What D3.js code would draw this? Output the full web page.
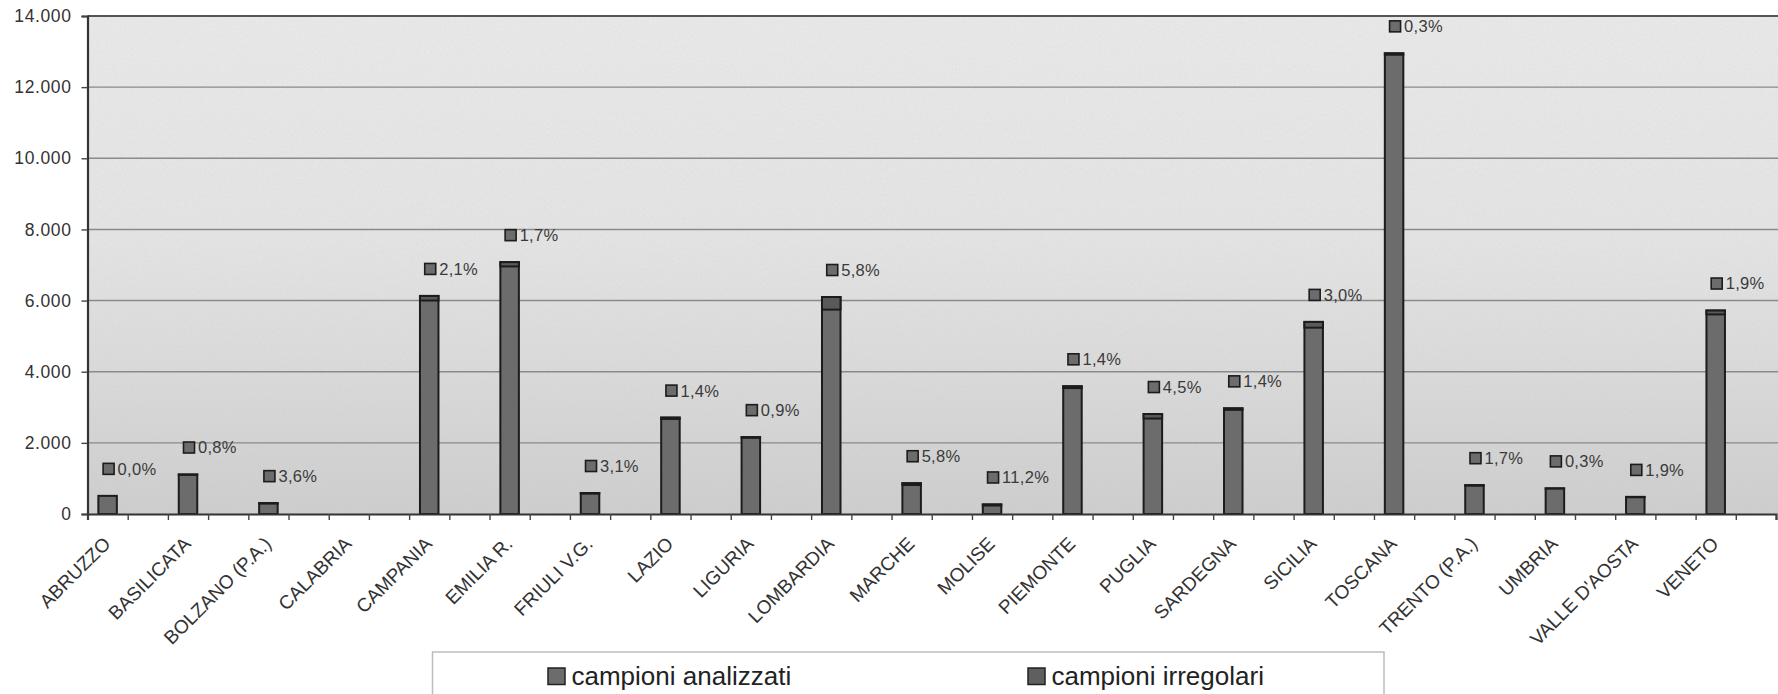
<!DOCTYPE html>
<html lang="it">
<head>
<meta charset="utf-8">
<title>Campioni analizzati e irregolari per regione</title>
<script src="https://cdn.jsdelivr.net/npm/d3@7/dist/d3.min.js"></script>
<style>
  html, body { margin: 0; padding: 0; background: #ffffff; }
  svg { display: block; font-family: "Liberation Sans", Arial, sans-serif; }
</style>
</head>
<body>
<svg id="chart" width="1778" height="694"></svg>
<script>
// Regioni e province autonome
const regions = [
  "ABRUZZO", "BASILICATA", "BOLZANO (P.A.)", "CALABRIA", "CAMPANIA",
  "EMILIA R.", "FRIULI V.G.", "LAZIO", "LIGURIA", "LOMBARDIA",
  "MARCHE", "MOLISE", "PIEMONTE", "PUGLIA", "SARDEGNA",
  "SICILIA", "TOSCANA", "TRENTO (P.A.)", "UMBRIA", "VALLE D'AOSTA", "VENETO"
];

// Numero di campioni analizzati
const analizzati = [
  510, 1110, 305, 0, 6130,
  7080, 590, 2710, 2160, 6100,
  865, 268, 3590, 2810, 2970,
  5400, 12950, 810, 720, 480, 5720
];

// Numero di campioni irregolari
const irregolari = [
  0, 9, 11, 0, 129,
  120, 18, 38, 19, 354,
  50, 30, 50, 126, 42,
  162, 39, 14, 2, 9, 109
];

const yTicks = [0, 2000, 4000, 6000, 8000, 10000, 12000, 14000];
const seriesNames = ["campioni analizzati", "campioni irregolari"];

const it = d3.formatLocale({ decimal: ",", thousands: ".", grouping: [3], currency: ["€", ""] });
const fmtNum = it.format(",");
const fmtPct = it.format(".1f");

const svg = d3.select("#chart");
const plot = { left: 87.5, right: 1776, top: 16, bottom: 514 };

const x = d3.scaleLinear().domain([0, regions.length]).range([plot.left, plot.right]);
const y = d3.scaleLinear().domain([0, 14000]).range([plot.bottom, plot.top]);

const defs = svg.append("defs");
const grad = defs.append("linearGradient")
  .attr("id", "plotBg").attr("x1", 0).attr("y1", 0).attr("x2", 0).attr("y2", 1);
[[0, "#e9e9e9"], [0.45, "#e4e4e4"], [0.72, "#dadada"], [1, "#cecece"]].forEach(([o, c]) =>
  grad.append("stop").attr("offset", o).attr("stop-color", c));

// grana leggera della superficie di stampa
const grain = defs.append("filter").attr("id", "grain")
  .attr("x", 0).attr("y", 0).attr("width", "100%").attr("height", "100%");
grain.append("feTurbulence").attr("type", "fractalNoise")
  .attr("baseFrequency", "0.9 0.35").attr("numOctaves", 2).attr("seed", 7);
grain.append("feColorMatrix").attr("type", "matrix")
  .attr("values", "0 0 0 0 0.5  0 0 0 0 0.5  0 0 0 0 0.5  0 0 0 0.5 -0.12");

// area del grafico
svg.append("rect")
  .attr("x", plot.left).attr("y", plot.top)
  .attr("width", plot.right - plot.left + 2).attr("height", plot.bottom - plot.top)
  .attr("fill", "url(#plotBg)");
svg.append("rect")
  .attr("x", plot.left).attr("y", plot.top)
  .attr("width", plot.right - plot.left + 2).attr("height", plot.bottom - plot.top)
  .attr("filter", "url(#grain)").attr("opacity", 0.4);

// griglia orizzontale
svg.append("g").selectAll("line")
  .data(yTicks.filter(v => v > 0 && v < 14000))
  .join("line")
  .attr("x1", plot.left).attr("x2", 1778)
  .attr("y1", d => y(d)).attr("y2", d => y(d))
  .attr("stroke", "#8a8a8a").attr("stroke-width", 1.4);

// bordo superiore
svg.append("line")
  .attr("x1", plot.left).attr("x2", 1778)
  .attr("y1", plot.top).attr("y2", plot.top)
  .attr("stroke", "#555").attr("stroke-width", 2);

// asse Y
const yAxis = svg.append("g")
  .attr("transform", `translate(${plot.left},0)`)
  .call(d3.axisLeft(y).tickValues(yTicks).tickSize(6).tickPadding(10).tickFormat(fmtNum));
yAxis.select(".domain").attr("stroke", "#333").attr("stroke-width", 2.2);
yAxis.selectAll(".tick line").attr("stroke", "#444").attr("stroke-width", 1.4);
yAxis.selectAll(".tick text")
  .attr("fill", "#333").attr("font-size", 17.5).attr("letter-spacing", 0.6)
  .attr("font-family", "'Liberation Sans', Arial, sans-serif");

// barre
const barW = 18.5;
const cx = i => x(i + 0.25);
const bars = svg.append("g");
regions.forEach((r, i) => {
  const a = analizzati[i];
  if (a <= 0) return;
  const irr = irregolari[i];
  bars.append("rect")
    .attr("x", cx(i) - barW / 2).attr("y", y(a))
    .attr("width", barW).attr("height", y(0) - y(a))
    .attr("fill", "#6c6c6c").attr("stroke", "#1c1c1c").attr("stroke-width", 2);
  if (irr > 0) {
    bars.append("rect")
      .attr("x", cx(i) - barW / 2).attr("y", y(a))
      .attr("width", barW).attr("height", y(a - irr) - y(a))
      .attr("fill", "#5a5a5a").attr("stroke", "#1c1c1c").attr("stroke-width", 2);
  }
});

// asse X
const xAxis = svg.append("g")
  .attr("transform", `translate(0,${plot.bottom})`)
  .call(d3.axisBottom(x)
    .tickValues(d3.range(0, regions.length * 2 + 1).map(k => k / 2))
    .tickSize(6).tickFormat(""));
xAxis.select(".domain").attr("stroke", "#333").attr("stroke-width", 2.2);
xAxis.selectAll(".tick line").attr("stroke", "#444").attr("stroke-width", 1.4);

svg.append("g").selectAll("text")
  .data(regions)
  .join("text")
  .attr("transform", (d, i) => `translate(${cx(i) + 4},${plot.bottom + 31}) rotate(-45)`)
  .attr("text-anchor", "end")
  .attr("font-size", 19)
  .attr("fill", "#333")
  .text(d => d);

// etichette percentuali con simbolo di legenda
const labels = svg.append("g");
regions.forEach((r, i) => {
  const a = analizzati[i];
  if (a <= 0) return;
  const ly = y(a) - 27;
  const mx = cx(i) + 1;
  labels.append("rect")
    .attr("x", mx - 5.5).attr("y", ly - 5.5)
    .attr("width", 11).attr("height", 11)
    .attr("fill", "#6c6c6c").attr("stroke", "#1c1c1c").attr("stroke-width", 1.6);
  labels.append("text")
    .attr("x", mx + 9).attr("y", ly)
    .attr("dy", "0.36em")
    .attr("font-size", 16.5).attr("letter-spacing", 0.3)
    .attr("fill", "#3a3a3a")
    .text(fmtPct(100 * irregolari[i] / a) + "%");
});

// legenda
const legend = svg.append("g");
legend.append("rect")
  .attr("x", 432.5).attr("y", 652)
  .attr("width", 951.5).attr("height", 60)
  .attr("fill", "#ffffff").attr("stroke", "#bdbdbd").attr("stroke-width", 1.5);
const legendX = [548, 1028];
const legendFill = ["#6c6c6c", "#5f5f5f"];
seriesNames.forEach((name, k) => {
  legend.append("rect")
    .attr("x", legendX[k]).attr("y", 668)
    .attr("width", 17).attr("height", 16.5)
    .attr("fill", legendFill[k]).attr("stroke", "#222").attr("stroke-width", 1.5);
  legend.append("text")
    .attr("x", legendX[k] + 23.5).attr("y", 684.5)
    .attr("font-size", 26).attr("fill", "#222")
    .text(name);
});
</script>
</body>
</html>
